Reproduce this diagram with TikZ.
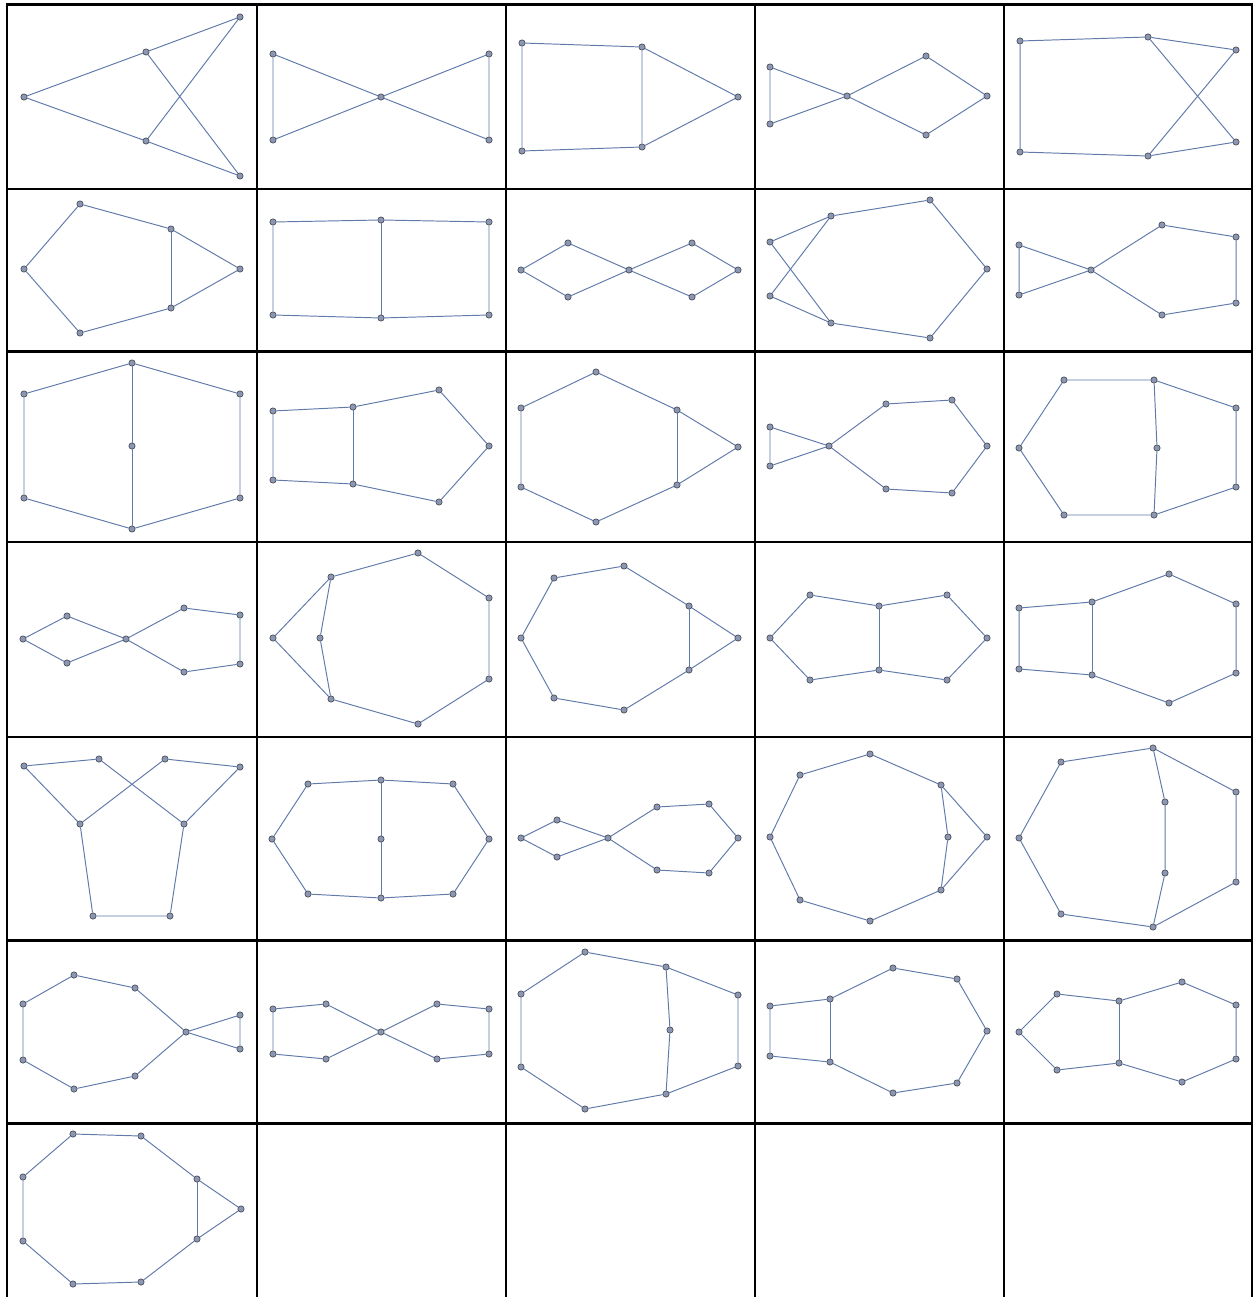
\documentclass[tikz,border=0pt]{standalone}
\usepackage{tikz}
\usepackage{xcolor}
\definecolor{edgeblue}{RGB}{96,122,170}
\definecolor{vtxfill}{RGB}{138,150,178}
\definecolor{vtxline}{RGB}{70,74,84}

\begin{document}
\begin{tikzpicture}[
  x=0.02cm, y=-0.02cm,
  vtx/.style={circle, draw=vtxline, fill=vtxfill, line width=0.35pt, inner sep=0pt, minimum size=3.6pt},
  edge/.style={edgeblue, line width=0.55pt},
  gridline/.style={black, line width=1.4pt}
]
\useasboundingbox (0,0) rectangle (1254,1297);

% table
\draw[gridline] (7,1297) -- (7,4.5) -- (1252,4.5) -- (1252,1297);
\draw[gridline] (257,4.5) -- (257,1297);
\draw[gridline] (506,4.5) -- (506,1297);
\draw[gridline] (755,4.5) -- (755,1297);
\draw[gridline] (1004,4.5) -- (1004,1297);
\draw[gridline] (7,189) -- (1252,189);
\draw[gridline] (7,351.5) -- (1252,351.5);
\draw[gridline] (7,542) -- (1252,542);
\draw[gridline] (7,737) -- (1252,737);
\draw[gridline] (7,940.5) -- (1252,940.5);
\draw[gridline] (7,1123.5) -- (1252,1123.5);

% row 1
\node[vtx] (g1a) at (24,97) {};
\node[vtx] (g1b) at (146,52) {};
\node[vtx] (g1c) at (146,141) {};
\node[vtx] (g1d) at (240,17) {};
\node[vtx] (g1e) at (240,176) {};
\draw[edge] (g1b) -- (g1a) -- (g1c);
\draw[edge] (g1b) -- (g1d) -- (g1c) -- (g1e) -- (g1b);

\node[vtx] (g2a) at (273,54) {};
\node[vtx] (g2b) at (273,140) {};
\node[vtx] (g2c) at (381,97) {};
\node[vtx] (g2d) at (489,54) {};
\node[vtx] (g2e) at (489,140) {};
\draw[edge] (g2a) -- (g2b) -- (g2c) -- (g2a);
\draw[edge] (g2c) -- (g2d) -- (g2e) -- (g2c);

\node[vtx] (g3a) at (522,43) {};
\node[vtx] (g3b) at (522,151) {};
\node[vtx] (g3c) at (642,47) {};
\node[vtx] (g3d) at (642,147) {};
\node[vtx] (g3e) at (738,97) {};
\draw[edge] (g3c) -- (g3a) -- (g3b) -- (g3d) -- (g3c) -- (g3e) -- (g3d);

\node[vtx] (g4a) at (770,67) {};
\node[vtx] (g4b) at (770,124) {};
\node[vtx] (g4c) at (847,96) {};
\node[vtx] (g4d) at (926,56) {};
\node[vtx] (g4e) at (987,96) {};
\node[vtx] (g4f) at (926,135) {};
\draw[edge] (g4a) -- (g4b) -- (g4c) -- (g4a);
\draw[edge] (g4c) -- (g4d) -- (g4e) -- (g4f) -- (g4c);

\node[vtx] (g5a) at (1020,41) {};
\node[vtx] (g5b) at (1020,152) {};
\node[vtx] (g5c) at (1148,37) {};
\node[vtx] (g5d) at (1148,156) {};
\node[vtx] (g5e) at (1236,50) {};
\node[vtx] (g5f) at (1236,142) {};
\draw[edge] (g5c) -- (g5a) -- (g5b) -- (g5d) -- (g5f) -- (g5c) -- (g5e) -- (g5d);

% row 2
\node[vtx] (g6a) at (24,269) {};
\node[vtx] (g6b) at (80,204) {};
\node[vtx] (g6c) at (171,229) {};
\node[vtx] (g6d) at (240,269) {};
\node[vtx] (g6e) at (171,308) {};
\node[vtx] (g6f) at (80,333) {};
\draw[edge] (g6a) -- (g6b) -- (g6c) -- (g6d) -- (g6e) -- (g6f) -- (g6a);
\draw[edge] (g6c) -- (g6e);

\node[vtx] (g7a) at (273,222) {};
\node[vtx] (g7b) at (381,220) {};
\node[vtx] (g7c) at (489,222) {};
\node[vtx] (g7d) at (489,315) {};
\node[vtx] (g7e) at (381,318) {};
\node[vtx] (g7f) at (273,315) {};
\draw[edge] (g7a) -- (g7b) -- (g7c) -- (g7d) -- (g7e) -- (g7f) -- (g7a);
\draw[edge] (g7b) -- (g7e);

\node[vtx] (g8a) at (521,270) {};
\node[vtx] (g8b) at (568,243) {};
\node[vtx] (g8c) at (629,270) {};
\node[vtx] (g8d) at (568,297) {};
\node[vtx] (g8e) at (692,243) {};
\node[vtx] (g8f) at (738,270) {};
\node[vtx] (g8g) at (692,297) {};
\draw[edge] (g8a) -- (g8b) -- (g8c) -- (g8d) -- (g8a);
\draw[edge] (g8c) -- (g8e) -- (g8f) -- (g8g) -- (g8c);

\node[vtx] (g9a) at (770,242) {};
\node[vtx] (g9b) at (770,296) {};
\node[vtx] (g9c) at (831,216) {};
\node[vtx] (g9d) at (930,200) {};
\node[vtx] (g9e) at (987,269) {};
\node[vtx] (g9f) at (930,338) {};
\node[vtx] (g9g) at (831,323) {};
\draw[edge] (g9a) -- (g9c) -- (g9d) -- (g9e) -- (g9f) -- (g9g) -- (g9a);
\draw[edge] (g9c) -- (g9b) -- (g9g);

\node[vtx] (g10a) at (1019,245) {};
\node[vtx] (g10b) at (1019,295) {};
\node[vtx] (g10c) at (1091,270) {};
\node[vtx] (g10d) at (1162,225) {};
\node[vtx] (g10e) at (1236,237) {};
\node[vtx] (g10f) at (1236,303) {};
\node[vtx] (g10g) at (1162,315) {};
\draw[edge] (g10a) -- (g10b) -- (g10c) -- (g10a);
\draw[edge] (g10c) -- (g10d) -- (g10e) -- (g10f) -- (g10g) -- (g10c);

% row 3
\node[vtx] (g11a) at (24,394) {};
\node[vtx] (g11b) at (132,363) {};
\node[vtx] (g11c) at (240,394) {};
\node[vtx] (g11d) at (240,498) {};
\node[vtx] (g11e) at (132,529) {};
\node[vtx] (g11f) at (24,498) {};
\node[vtx] (g11g) at (132,446) {};
\draw[edge] (g11a) -- (g11b) -- (g11c) -- (g11d) -- (g11e) -- (g11f) -- (g11a);
\draw[edge] (g11b) -- (g11g) -- (g11e);

\node[vtx] (g12a) at (273,411) {};
\node[vtx] (g12b) at (353,407) {};
\node[vtx] (g12c) at (439,390) {};
\node[vtx] (g12d) at (489,446) {};
\node[vtx] (g12e) at (439,502) {};
\node[vtx] (g12f) at (353,484) {};
\node[vtx] (g12g) at (273,480) {};
\draw[edge] (g12a) -- (g12b) -- (g12c) -- (g12d) -- (g12e) -- (g12f) -- (g12g) -- (g12a);
\draw[edge] (g12b) -- (g12f);

\node[vtx] (g13a) at (521,408) {};
\node[vtx] (g13b) at (596,372) {};
\node[vtx] (g13c) at (677,410) {};
\node[vtx] (g13d) at (738,447) {};
\node[vtx] (g13e) at (677,485) {};
\node[vtx] (g13f) at (596,522) {};
\node[vtx] (g13g) at (521,487) {};
\draw[edge] (g13a) -- (g13b) -- (g13c) -- (g13d) -- (g13e) -- (g13f) -- (g13g) -- (g13a);
\draw[edge] (g13c) -- (g13e);

\node[vtx] (g14a) at (770,427) {};
\node[vtx] (g14b) at (770,466) {};
\node[vtx] (g14c) at (829,446) {};
\node[vtx] (g14d) at (886,404) {};
\node[vtx] (g14e) at (952,400) {};
\node[vtx] (g14f) at (987,446) {};
\node[vtx] (g14g) at (952,493) {};
\node[vtx] (g14h) at (886,489) {};
\draw[edge] (g14a) -- (g14b) -- (g14c) -- (g14a);
\draw[edge] (g14c) -- (g14d) -- (g14e) -- (g14f) -- (g14g) -- (g14h) -- (g14c);

\node[vtx] (g15a) at (1019,448) {};
\node[vtx] (g15b) at (1064,380) {};
\node[vtx] (g15c) at (1154,380) {};
\node[vtx] (g15d) at (1236,408) {};
\node[vtx] (g15e) at (1236,487) {};
\node[vtx] (g15f) at (1154,515) {};
\node[vtx] (g15g) at (1064,515) {};
\node[vtx] (g15h) at (1157,448) {};
\draw[edge] (g15a) -- (g15b) -- (g15c) -- (g15d) -- (g15e) -- (g15f) -- (g15g) -- (g15a);
\draw[edge] (g15c) -- (g15h) -- (g15f);

% row 4
\node[vtx] (g16a) at (23,639) {};
\node[vtx] (g16b) at (67,616) {};
\node[vtx] (g16c) at (126,639) {};
\node[vtx] (g16d) at (67,663) {};
\node[vtx] (g16e) at (184,608) {};
\node[vtx] (g16f) at (240,615) {};
\node[vtx] (g16g) at (240,664) {};
\node[vtx] (g16h) at (184,672) {};
\draw[edge] (g16a) -- (g16b) -- (g16c) -- (g16d) -- (g16a);
\draw[edge] (g16c) -- (g16e) -- (g16f) -- (g16g) -- (g16h) -- (g16c);

\node[vtx] (g17a) at (273,638) {};
\node[vtx] (g17b) at (331,577) {};
\node[vtx] (g17c) at (418,553) {};
\node[vtx] (g17d) at (489,598) {};
\node[vtx] (g17e) at (489,679) {};
\node[vtx] (g17f) at (418,724) {};
\node[vtx] (g17g) at (331,699) {};
\node[vtx] (g17h) at (320,638) {};
\draw[edge] (g17a) -- (g17b) -- (g17c) -- (g17d) -- (g17e) -- (g17f) -- (g17g) -- (g17a);
\draw[edge] (g17b) -- (g17h) -- (g17g);

\node[vtx] (g18a) at (521,638) {};
\node[vtx] (g18b) at (554,578) {};
\node[vtx] (g18c) at (624,566) {};
\node[vtx] (g18d) at (689,606) {};
\node[vtx] (g18e) at (738,638) {};
\node[vtx] (g18f) at (689,670) {};
\node[vtx] (g18g) at (624,710) {};
\node[vtx] (g18h) at (554,698) {};
\draw[edge] (g18a) -- (g18b) -- (g18c) -- (g18d) -- (g18e) -- (g18f) -- (g18g) -- (g18h) -- (g18a);
\draw[edge] (g18d) -- (g18f);

\node[vtx] (g19a) at (770,638) {};
\node[vtx] (g19b) at (810,595) {};
\node[vtx] (g19c) at (879,606) {};
\node[vtx] (g19d) at (947,595) {};
\node[vtx] (g19e) at (987,638) {};
\node[vtx] (g19f) at (947,680) {};
\node[vtx] (g19g) at (879,670) {};
\node[vtx] (g19h) at (810,680) {};
\draw[edge] (g19a) -- (g19b) -- (g19c) -- (g19d) -- (g19e) -- (g19f) -- (g19g) -- (g19h) -- (g19a);
\draw[edge] (g19c) -- (g19g);

\node[vtx] (g20a) at (1019,608) {};
\node[vtx] (g20b) at (1092,602) {};
\node[vtx] (g20c) at (1169,574) {};
\node[vtx] (g20d) at (1236,604) {};
\node[vtx] (g20e) at (1236,673) {};
\node[vtx] (g20f) at (1169,703) {};
\node[vtx] (g20g) at (1092,675) {};
\node[vtx] (g20h) at (1019,669) {};
\draw[edge] (g20a) -- (g20b) -- (g20c) -- (g20d) -- (g20e) -- (g20f) -- (g20g) -- (g20h) -- (g20a);
\draw[edge] (g20b) -- (g20g);

% row 5
\node[vtx] (g21a) at (24,766) {};
\node[vtx] (g21b) at (99,759) {};
\node[vtx] (g21c) at (165,759) {};
\node[vtx] (g21d) at (240,767) {};
\node[vtx] (g21e) at (80,824) {};
\node[vtx] (g21f) at (184,824) {};
\node[vtx] (g21g) at (93,916) {};
\node[vtx] (g21h) at (170,916) {};
\draw[edge] (g21e) -- (g21a) -- (g21b) -- (g21f) -- (g21d) -- (g21c) -- (g21e) -- (g21g) -- (g21h) -- (g21f);

\node[vtx] (g22a) at (272,839) {};
\node[vtx] (g22b) at (308,784) {};
\node[vtx] (g22c) at (381,780) {};
\node[vtx] (g22d) at (453,784) {};
\node[vtx] (g22e) at (489,839) {};
\node[vtx] (g22f) at (453,894) {};
\node[vtx] (g22g) at (381,898) {};
\node[vtx] (g22h) at (308,894) {};
\node[vtx] (g22i) at (381,839) {};
\draw[edge] (g22a) -- (g22b) -- (g22c) -- (g22d) -- (g22e) -- (g22f) -- (g22g) -- (g22h) -- (g22a);
\draw[edge] (g22c) -- (g22i) -- (g22g);

\node[vtx] (g23a) at (521,838) {};
\node[vtx] (g23b) at (557,820) {};
\node[vtx] (g23c) at (608,838) {};
\node[vtx] (g23d) at (557,857) {};
\node[vtx] (g23e) at (657,807) {};
\node[vtx] (g23f) at (709,804) {};
\node[vtx] (g23g) at (738,838) {};
\node[vtx] (g23h) at (709,873) {};
\node[vtx] (g23i) at (657,870) {};
\draw[edge] (g23a) -- (g23b) -- (g23c) -- (g23d) -- (g23a);
\draw[edge] (g23c) -- (g23e) -- (g23f) -- (g23g) -- (g23h) -- (g23i) -- (g23c);

\node[vtx] (g24a) at (770,837) {};
\node[vtx] (g24b) at (800,775) {};
\node[vtx] (g24c) at (870,754) {};
\node[vtx] (g24d) at (941,785) {};
\node[vtx] (g24e) at (987,837) {};
\node[vtx] (g24f) at (941,890) {};
\node[vtx] (g24g) at (870,921) {};
\node[vtx] (g24h) at (800,900) {};
\node[vtx] (g24i) at (948,837) {};
\draw[edge] (g24a) -- (g24b) -- (g24c) -- (g24d) -- (g24e) -- (g24f) -- (g24g) -- (g24h) -- (g24a);
\draw[edge] (g24d) -- (g24i) -- (g24f);

\node[vtx] (g25a) at (1019,838) {};
\node[vtx] (g25b) at (1061,762) {};
\node[vtx] (g25c) at (1153,748) {};
\node[vtx] (g25d) at (1236,792) {};
\node[vtx] (g25e) at (1236,882) {};
\node[vtx] (g25f) at (1153,927) {};
\node[vtx] (g25g) at (1061,914) {};
\node[vtx] (g25h) at (1165,802) {};
\node[vtx] (g25i) at (1165,873) {};
\draw[edge] (g25a) -- (g25b) -- (g25c) -- (g25d) -- (g25e) -- (g25f) -- (g25g) -- (g25a);
\draw[edge] (g25c) -- (g25h) -- (g25i) -- (g25f);

% row 6
\node[vtx] (g26a) at (23,1004) {};
\node[vtx] (g26b) at (74,975) {};
\node[vtx] (g26c) at (135,988) {};
\node[vtx] (g26d) at (186,1032) {};
\node[vtx] (g26e) at (240,1015) {};
\node[vtx] (g26f) at (240,1049) {};
\node[vtx] (g26g) at (135,1076) {};
\node[vtx] (g26h) at (74,1089) {};
\node[vtx] (g26i) at (23,1060) {};
\draw[edge] (g26a) -- (g26b) -- (g26c) -- (g26d) -- (g26g) -- (g26h) -- (g26i) -- (g26a);
\draw[edge] (g26d) -- (g26e) -- (g26f) -- (g26d);

\node[vtx] (g27a) at (273,1009) {};
\node[vtx] (g27b) at (326,1004) {};
\node[vtx] (g27c) at (381,1032) {};
\node[vtx] (g27d) at (437,1004) {};
\node[vtx] (g27e) at (489,1009) {};
\node[vtx] (g27f) at (489,1054) {};
\node[vtx] (g27g) at (437,1059) {};
\node[vtx] (g27h) at (326,1059) {};
\node[vtx] (g27i) at (273,1054) {};
\draw[edge] (g27a) -- (g27b) -- (g27c) -- (g27h) -- (g27i) -- (g27a);
\draw[edge] (g27c) -- (g27d) -- (g27e) -- (g27f) -- (g27g) -- (g27c);

\node[vtx] (g28a) at (521,994) {};
\node[vtx] (g28b) at (585,952) {};
\node[vtx] (g28c) at (666,967) {};
\node[vtx] (g28d) at (738,995) {};
\node[vtx] (g28e) at (738,1066) {};
\node[vtx] (g28f) at (666,1094) {};
\node[vtx] (g28g) at (585,1109) {};
\node[vtx] (g28h) at (521,1067) {};
\node[vtx] (g28i) at (670,1030) {};
\draw[edge] (g28a) -- (g28b) -- (g28c) -- (g28d) -- (g28e) -- (g28f) -- (g28g) -- (g28h) -- (g28a);
\draw[edge] (g28c) -- (g28i) -- (g28f);

\node[vtx] (g29a) at (770,1006) {};
\node[vtx] (g29b) at (830,999) {};
\node[vtx] (g29c) at (893,968) {};
\node[vtx] (g29d) at (957,979) {};
\node[vtx] (g29e) at (987,1031) {};
\node[vtx] (g29f) at (957,1083) {};
\node[vtx] (g29g) at (893,1093) {};
\node[vtx] (g29h) at (830,1062) {};
\node[vtx] (g29i) at (770,1056) {};
\draw[edge] (g29a) -- (g29b) -- (g29c) -- (g29d) -- (g29e) -- (g29f) -- (g29g) -- (g29h) -- (g29i) -- (g29a);
\draw[edge] (g29b) -- (g29h);

\node[vtx] (g30a) at (1019,1032) {};
\node[vtx] (g30b) at (1057,994) {};
\node[vtx] (g30c) at (1119,1001) {};
\node[vtx] (g30d) at (1182,982) {};
\node[vtx] (g30e) at (1236,1005) {};
\node[vtx] (g30f) at (1236,1059) {};
\node[vtx] (g30g) at (1182,1082) {};
\node[vtx] (g30h) at (1119,1063) {};
\node[vtx] (g30i) at (1057,1070) {};
\draw[edge] (g30a) -- (g30b) -- (g30c) -- (g30d) -- (g30e) -- (g30f) -- (g30g) -- (g30h) -- (g30i) -- (g30a);
\draw[edge] (g30c) -- (g30h);

% row 7
\node[vtx] (g31a) at (73,1134) {};
\node[vtx] (g31b) at (141,1136) {};
\node[vtx] (g31c) at (197,1179) {};
\node[vtx] (g31d) at (241,1209) {};
\node[vtx] (g31e) at (197,1239) {};
\node[vtx] (g31f) at (141,1282) {};
\node[vtx] (g31g) at (73,1284) {};
\node[vtx] (g31h) at (23,1241) {};
\node[vtx] (g31i) at (23,1177) {};
\draw[edge] (g31a) -- (g31b) -- (g31c) -- (g31d) -- (g31e) -- (g31f) -- (g31g) -- (g31h) -- (g31i) -- (g31a);
\draw[edge] (g31c) -- (g31e);
\end{tikzpicture}
\end{document}
